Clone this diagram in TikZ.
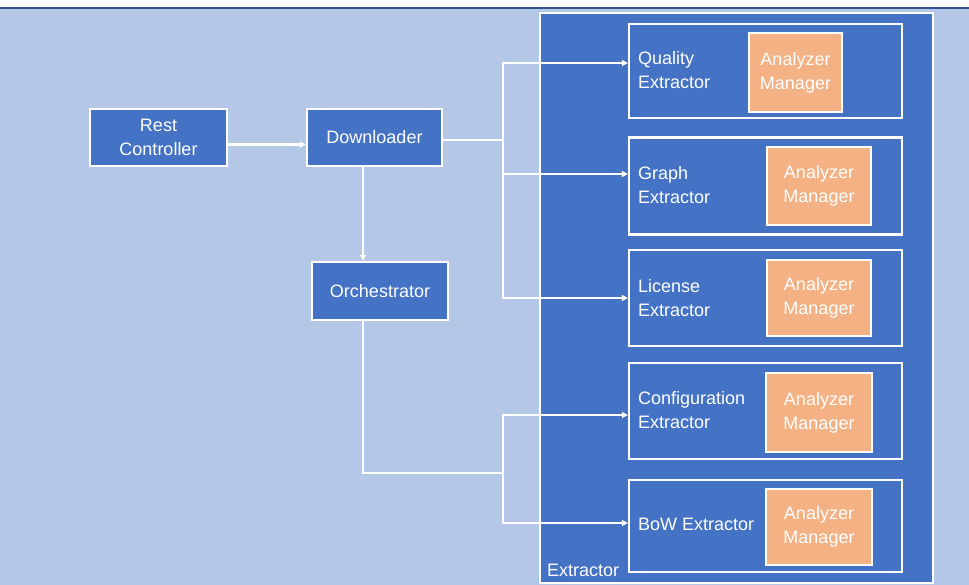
\documentclass[tikz,border=0pt]{standalone}
\usepackage{fontspec}
\setmainfont{Liberation Sans}
\usetikzlibrary{arrows.meta}
\definecolor{bgblue}{HTML}{B4C7E7}
\definecolor{boxblue}{HTML}{4472C4}
\definecolor{mgrorange}{HTML}{F4B183}
\definecolor{rulecol}{HTML}{2F528F}
\begin{document}
\begin{tikzpicture}[x=1pt,y=-1pt,
  blk/.style={draw=white, line width=2.2pt, fill=boxblue, inner sep=0},
  mgr/.style={draw=white, line width=2.2pt, fill=mgrorange, inner sep=0,
    text=white, font=\fontsize{18}{24}\selectfont, align=center},
  lbl/.style={text=white, font=\fontsize{18}{24}\selectfont, inner sep=0},
  link/.style={draw=white, line width=2.2pt},
  arr/.style={link, -{Triangle[length=6pt,width=6pt]}}]

% page background with the top rule
\useasboundingbox (0,0) rectangle (969,585);
\fill[white] (0,0) rectangle (969,8);
\fill[bgblue] (0,8) rectangle (969,585);
\draw[rulecol, line width=2pt] (0,8.5) -- (969,8.5);

% left column
\node[blk, minimum width=137, minimum height=57, lbl, align=center] (rest) at (158.5,137.5) {Rest\\Controller};
\node[blk, minimum width=135, minimum height=57, lbl, align=center] (down) at (374.5,137.5) {Downloader};
\node[blk, minimum width=136, minimum height=58, lbl, align=center] (orch) at (380,291) {Orchestrator};

% extractor container
\node[blk, minimum width=393, minimum height=570] (ext) at (736.5,298) {};
\node[lbl, anchor=south west] (extlbl) at (547,577) {Extractor};

% extractor modules
\node[blk, minimum width=273, minimum height=94] (q) at (765.5,71) {};
\node[blk, minimum width=273, minimum height=97] (g) at (765.5,186) {};
\node[blk, minimum width=273, minimum height=96] (l) at (765.5,298) {};
\node[blk, minimum width=273, minimum height=96] (c) at (765.5,411) {};
\node[blk, minimum width=273, minimum height=92] (b) at (765.5,526) {};

\node[lbl, anchor=west, align=left] (qt) at (638,70) {Quality\\Extractor};
\node[lbl, anchor=west, align=left] (gt) at (638,185) {Graph\\Extractor};
\node[lbl, anchor=west, align=left] (lt) at (638,298) {License\\Extractor};
\node[lbl, anchor=west, align=left] (ct) at (638,410) {Configuration\\Extractor};
\node[lbl, anchor=west, align=left] (bt) at (638,524) {BoW Extractor};

\node[mgr, minimum width=93, minimum height=79] (qm) at (795.5,72.5) {Analyzer\\Manager};
\node[mgr, minimum width=104, minimum height=78] (gm) at (819,186) {Analyzer\\Manager};
\node[mgr, minimum width=104, minimum height=76] (lm) at (819,298) {Analyzer\\Manager};
\node[mgr, minimum width=106, minimum height=79] (cm) at (819,412.5) {Analyzer\\Manager};
\node[mgr, minimum width=106, minimum height=76] (bm) at (819,527) {Analyzer\\Manager};

% connectors
\coordinate (j1) at (503,140);
\coordinate (j2) at (503,473);
\coordinate (vx) at (363,0);

\draw[arr] ([yshift=-7pt]rest.east) -- ([yshift=-7pt]down.west);
\draw[arr] (down.south -| vx) -- (orch.north -| vx);

\draw[link] (down.east |- j1) -- (j1);
\draw[arr] (j1) |- ([yshift=8pt]q.west);
\draw[arr] (j1) |- ([yshift=12pt]g.west);
\draw[arr] (j1) |- (l.west);

\draw[link] (orch.south -| vx) |- (j2);
\draw[arr] (j2) |- ([yshift=-4pt]c.west);
\draw[arr] (j2) |- ([yshift=3pt]b.west);
\end{tikzpicture}
\end{document}
